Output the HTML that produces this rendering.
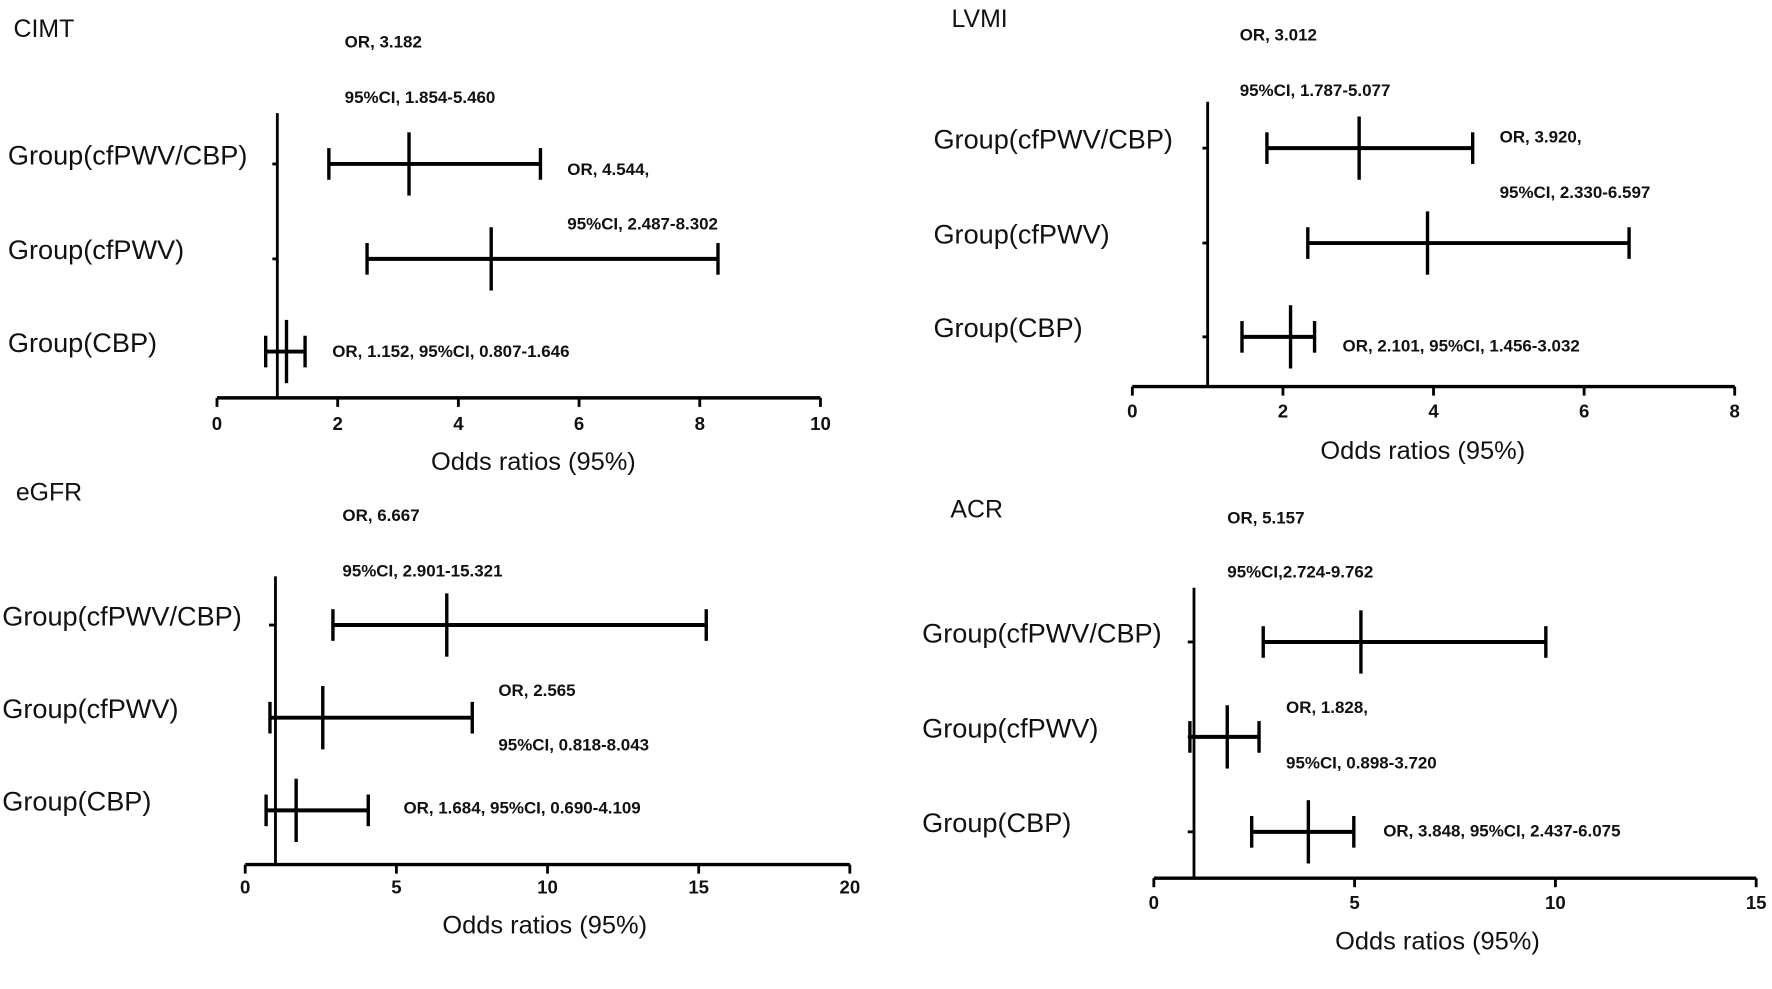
<!DOCTYPE html>
<html><head><meta charset="utf-8"><style>
html,body{margin:0;padding:0;background:#fff;}
svg{display:block;font-family:"Liberation Sans",Arial,sans-serif;}
</style></head><body>
<svg id="fig" width="1772" height="989" viewBox="0 0 1568 875" xmlns="http://www.w3.org/2000/svg"></svg>
<script>
const categories = ["Group(cfPWV/CBP)", "Group(cfPWV)", "Group(CBP)"];
const panelTitles = ["CIMT", "LVMI", "eGFR", "ACR"];
const orCIMT = [3.182, 4.544, 1.152];
const loCIMT = [1.854, 2.487, 0.807];
const hiCIMT = [5.36, 8.302, 1.46];
const orLVMI = [3.012, 3.920, 2.101];
const loLVMI = [1.787, 2.330, 1.456];
const hiLVMI = [4.52, 6.597, 2.42];
const orEGFR = [6.667, 2.565, 1.684];
const loEGFR = [2.901, 0.818, 0.690];
const hiEGFR = [15.25, 7.51, 4.07];
const orACR = [5.157, 1.828, 3.848];
const loACR = [2.724, 0.898, 2.437];
const hiACR = [9.762, 2.62, 4.98];
const ticksCIMT = [0, 2, 4, 6, 8, 10];
const ticksLVMI = [0, 2, 4, 6, 8];
const ticksEGFR = [0, 5, 10, 15, 20];
const ticksACR = [0, 5, 10, 15];
const annCIMT = ["OR, 3.182", "95%CI, 1.854-5.460", "OR, 4.544,", "95%CI, 2.487-8.302", "OR, 1.152, 95%CI, 0.807-1.646"];
const annLVMI = ["OR, 3.012", "95%CI, 1.787-5.077", "OR, 3.920,", "95%CI, 2.330-6.597", "OR, 2.101, 95%CI, 1.456-3.032"];
const annEGFR = ["OR, 6.667", "95%CI, 2.901-15.321", "OR, 2.565", "95%CI, 0.818-8.043", "OR, 1.684, 95%CI, 0.690-4.109"];
const annACR = ["OR, 5.157", "95%CI,2.724-9.762", "OR, 1.828,", "95%CI, 0.898-3.720", "OR, 3.848, 95%CI, 2.437-6.075"];

const NS = "http://www.w3.org/2000/svg";
const svg = document.getElementById("fig");
function mk(tag, attrs, parent) {
  const e = document.createElementNS(NS, tag);
  for (const k in attrs) e.setAttribute(k, attrs[k]);
  (parent || svg).appendChild(e);
  return e;
}
function txt(s, x, y, size, weight, anchor, parent) {
  const t = mk("text", {x: x, y: y, "font-size": size, "font-weight": weight, "text-anchor": anchor, "dominant-baseline": "middle", fill: "#111"}, parent);
  t.textContent = s;
  return t;
}

const layouts = [
  {key:"cimt", x0:192, x1:726, axisY:352, topY:100, rows:[145,229,311], labelX:7, titlePos:[12,27], labelTickX:241, tickLabelY:376, axisTitle:[472,410],
   ann:[[305,38],[305,87],[502,151],[502,199],[294,312]], or:orCIMT, lo:loCIMT, hi:hiCIMT, ticks:ticksCIMT, annText:annCIMT},
  {key:"lvmi", x0:1002, x1:1535, axisY:342, topY:90, rows:[131,215,298], labelX:826, titlePos:[842,18], labelTickX:1064, tickLabelY:365, axisTitle:[1259,400],
   ann:[[1097,32],[1097,81],[1327,122],[1327,171],[1188,307]], or:orLVMI, lo:loLVMI, hi:hiLVMI, ticks:ticksLVMI, annText:annLVMI},
  {key:"egfr", x0:217, x1:752, axisY:765, topY:510, rows:[553,635,717], labelX:2, titlePos:[14,437], labelTickX:238, tickLabelY:786, axisTitle:[482,820],
   ann:[[303,457],[303,506],[441,612],[441,660],[357,716]], or:orEGFR, lo:loEGFR, hi:hiEGFR, ticks:ticksEGFR, annText:annEGFR},
  {key:"acr", x0:1021, x1:1554, axisY:777, topY:520, rows:[568,652,736], labelX:816, titlePos:[841,452], labelTickX:1051, tickLabelY:800, axisTitle:[1272,834],
   ann:[[1086,459],[1086,507],[1138,627],[1138,676],[1224,736]], or:orACR, lo:loACR, hi:hiACR, ticks:ticksACR, annText:annACR}
];

layouts.forEach((L, pi) => {
  const g = mk("g", {});
  
  
  const tmax = L.ticks[L.ticks.length - 1];
  const sx = v => L.x0 + (v / tmax) * (L.x1 - L.x0);

  const title = txt(panelTitles[pi], L.titlePos[0], L.titlePos[1], 22, "normal", "start", g);
  
  

  const ax = mk("line", {x1: L.x0, x2: L.x1, y1: L.axisY, y2: L.axisY, stroke: "#000", "stroke-width": 3}, g);
  
  
  L.ticks.forEach(t => {
    const tk = mk("line", {x1: sx(t), x2: sx(t), y1: L.axisY, y2: L.axisY + 8, stroke: "#000", "stroke-width": 2.5}, g);
    
    
    const tl = txt(String(t), sx(t), L.tickLabelY, 16.5, "bold", "middle", g);
    
    
  });
  const at = txt("Odds ratios (95%)", L.axisTitle[0], L.axisTitle[1], 22.5, "normal", "middle", g);
  
  

  const ref = mk("line", {x1: sx(1), x2: sx(1), y1: L.topY, y2: L.axisY, stroke: "#000", "stroke-width": 2.5}, g);
  
  

  categories.forEach((c, i) => {
    const y = L.rows[i];
    const lab = txt(c, L.labelX, y - 6, 24, "normal", "start", g);
    
    
    const ct = mk("line", {x1: L.labelTickX, x2: sx(1), y1: y, y2: y, stroke: "#000", "stroke-width": 2.5}, g);
    
    

    const ci = mk("line", {x1: sx(L.lo[i]), x2: sx(L.hi[i]), y1: y, y2: y, stroke: "#000", "stroke-width": 3.5}, g);
    
    
    const capL = mk("line", {x1: sx(L.lo[i]), x2: sx(L.lo[i]), y1: y - 14, y2: y + 14, stroke: "#000", "stroke-width": 3}, g);
    
    
    const capR = mk("line", {x1: sx(L.hi[i]), x2: sx(L.hi[i]), y1: y - 14, y2: y + 14, stroke: "#000", "stroke-width": 3}, g);
    
    
    const pt = mk("line", {x1: sx(L.or[i]), x2: sx(L.or[i]), y1: y - 28, y2: y + 28, stroke: "#000", "stroke-width": 3}, g);
    
    
  });

  L.annText.forEach((s, k) => {
    const a = txt(s, L.ann[k][0], L.ann[k][1], 15, "bold", "start", g);
    
    
  });
});
</script>
</body></html>
